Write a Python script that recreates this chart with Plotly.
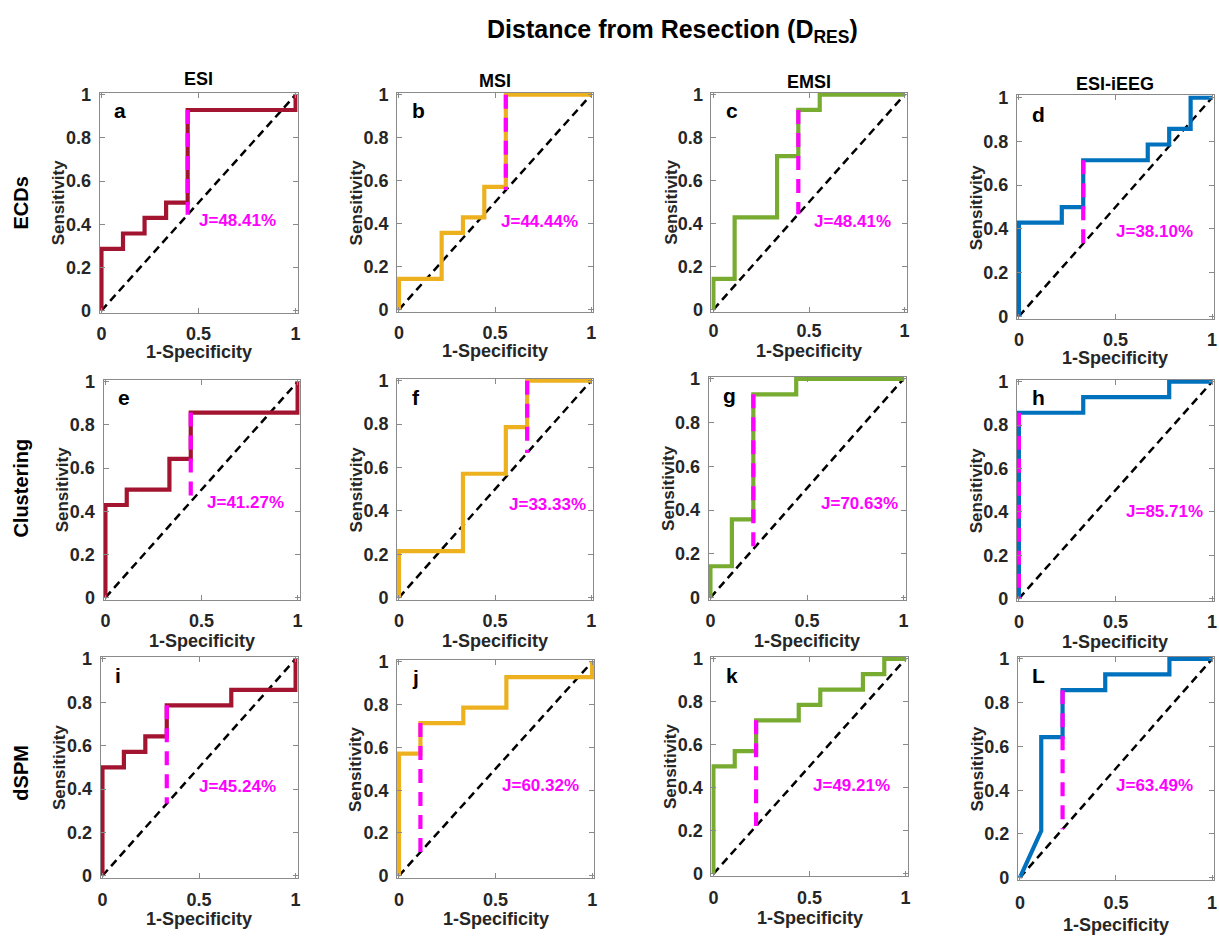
import plotly.graph_objects as go

W, H = 1219, 939

# ---------------- data ----------------
row_labels = ["ECDs", "Clustering", "dSPM"]
methods = ["ESI", "MSI", "EMSI", "ESI-iEEG"]
panel_ids = ["a", "b", "c", "d", "e", "f", "g", "h", "i", "j", "k", "L"]

fpr_a = [0, 0, 0.111, 0.111, 0.222, 0.222, 0.333, 0.333, 0.444, 0.444, 1, 1]
tpr_a = [0, 0.286, 0.286, 0.357, 0.357, 0.429, 0.429, 0.5, 0.5, 0.929, 0.929, 1]
fpr_b = [0, 0, 0.222, 0.222, 0.333, 0.333, 0.444, 0.444, 0.556, 0.556, 1]
tpr_b = [0, 0.143, 0.143, 0.357, 0.357, 0.429, 0.429, 0.571, 0.571, 1, 1]
fpr_c = [0, 0, 0.111, 0.111, 0.333, 0.333, 0.444, 0.444, 0.556, 0.556, 1]
tpr_c = [0, 0.143, 0.143, 0.429, 0.429, 0.714, 0.714, 0.929, 0.929, 1, 1]
fpr_d = [0, 0, 0.222, 0.222, 0.333, 0.333, 0.667, 0.667, 0.778, 0.778, 0.889, 0.889, 1]
tpr_d = [0, 0.429, 0.429, 0.5, 0.5, 0.714, 0.714, 0.786, 0.786, 0.857, 0.857, 1, 1]
fpr_e = [0, 0, 0.111, 0.111, 0.333, 0.333, 0.444, 0.444, 1, 1]
tpr_e = [0, 0.429, 0.429, 0.5, 0.5, 0.643, 0.643, 0.857, 0.857, 1]
fpr_f = [0, 0, 0.333, 0.333, 0.556, 0.556, 0.667, 0.667, 1]
tpr_f = [0, 0.214, 0.214, 0.571, 0.571, 0.786, 0.786, 1, 1]
fpr_g = [0, 0, 0.111, 0.111, 0.222, 0.222, 0.444, 0.444, 1]
tpr_g = [0, 0.143, 0.143, 0.357, 0.357, 0.929, 0.929, 1, 1]
fpr_h = [0, 0, 0.333, 0.333, 0.778, 0.778, 1]
tpr_h = [0, 0.857, 0.857, 0.929, 0.929, 1, 1]
fpr_i = [0, 0, 0.111, 0.111, 0.222, 0.222, 0.333, 0.333, 0.667, 0.667, 1, 1]
tpr_i = [0, 0.5, 0.5, 0.571, 0.571, 0.643, 0.643, 0.786, 0.786, 0.857, 0.857, 1]
fpr_j = [0, 0, 0.111, 0.111, 0.333, 0.333, 0.556, 0.556, 1, 1]
tpr_j = [0, 0.571, 0.571, 0.714, 0.714, 0.786, 0.786, 0.929, 0.929, 1]
fpr_k = [0, 0, 0.111, 0.111, 0.222, 0.222, 0.444, 0.444, 0.556, 0.556, 0.778, 0.778, 0.889, 0.889, 1]
tpr_k = [0, 0.5, 0.5, 0.571, 0.571, 0.714, 0.714, 0.786, 0.786, 0.857, 0.857, 0.929, 0.929, 1, 1]
fpr_L = [0, 0.111, 0.111, 0.222, 0.222, 0.444, 0.444, 0.778, 0.778, 1]
tpr_L = [0, 0.214, 0.643, 0.643, 0.857, 0.857, 0.929, 0.929, 1, 1]

fpr_all = [fpr_a, fpr_b, fpr_c, fpr_d, fpr_e, fpr_f, fpr_g, fpr_h, fpr_i, fpr_j, fpr_k, fpr_L]
tpr_all = [tpr_a, tpr_b, tpr_c, tpr_d, tpr_e, tpr_f, tpr_g, tpr_h, tpr_i, tpr_j, tpr_k, tpr_L]

# optimal (Youden) operating point: x, lower end (chance line), upper end (curve)
opt_x = [0.444, 0.556, 0.444, 0.333, 0.444, 0.667, 0.222, 0.0, 0.333, 0.111, 0.222, 0.222]
opt_lo = [0.444, 0.556, 0.444, 0.333, 0.444, 0.667, 0.222, 0.0, 0.333, 0.111, 0.222, 0.222]
opt_hi = [0.929, 1.0, 0.929, 0.714, 0.857, 1.0, 0.929, 0.857, 0.786, 0.714, 0.714, 0.857]
j_index = ["48.41", "44.44", "48.41", "38.10", "41.27", "33.33",
           "70.63", "85.71", "45.24", "60.32", "49.21", "63.49"]

chance_x = [0, 1]
chance_y = [0, 1]

x_ticks = [0, 0.5, 1]
x_tick_text = ["0", "0.5", "1"]
y_ticks = [0, 0.2, 0.4, 0.6, 0.8, 1]
y_tick_text = ["0", "0.2", "0.4", "0.6", "0.8", "1"]

# ---------------- layout / style ----------------
colors = {"ESI": "#A2142F", "MSI": "#EDB120", "EMSI": "#77AC30", "ESI-iEEG": "#0072BD"}
MAGENTA = "#FF00FF"
FONT = "Arial, Liberation Sans, sans-serif"
AXC = "#8a8a8a"
TXT = "#262626"
PAD = 0.01

# pixel boxes (left, right, top, bottom)
boxes = [
    (97, 296, 86, 310), (396, 593, 86, 309), (712, 908, 86, 309), (1019, 1217, 89, 316),
    (101, 298, 378, 602), (396, 593, 377, 602), (709, 907, 375, 602), (1019, 1217, 378, 603),
    (98, 296, 660, 885), (396, 594, 663, 885), (712, 909, 660, 883), (1020, 1217, 660, 887),
]
xtick_stand = [5, 5, 3, 5, 5, 5, 5, 5, 5, 5, 5, 7]
xtitle_off = [40, 40, 40, 40, 42, 42, 42, 42, 42, 42, 43, 46]
jpos = [(0.49, 0.415), (0.52, 0.41), (0.515, 0.41), (0.49, 0.39),
        (0.52, 0.44), (0.56, 0.43), (0.56, 0.43), (0.545, 0.40),
        (0.49, 0.41), (0.525, 0.42), (0.51, 0.41), (0.49, 0.42)]


def px(x):
    return x / W


def py(y):
    return 1 - y / H


fig = go.Figure()
annotations = []
layout_axes = {}

for idx, pid in enumerate(panel_ids):
    n = idx + 1
    r, c = divmod(idx, 4)
    method = methods[c]
    xname = "x" if n == 1 else f"x{n}"
    yname = "y" if n == 1 else f"y{n}"
    L, R, T, B = boxes[idx]

    # chance line
    fig.add_trace(go.Scatter(x=chance_x, y=chance_y, mode="lines", xaxis=xname, yaxis=yname,
                             line=dict(color="black", width=2.5, dash="8px,5px"),
                             showlegend=False, hoverinfo="skip"))
    # ROC curve
    fig.add_trace(go.Scatter(x=fpr_all[idx], y=tpr_all[idx], mode="lines", xaxis=xname, yaxis=yname,
                             line=dict(color=colors[method], width=4.2),
                             showlegend=False, name=f"{method} {row_labels[r]}"))
    # Youden index line
    fig.add_trace(go.Scatter(x=[opt_x[idx], opt_x[idx]], y=[opt_hi[idx], opt_lo[idx]], mode="lines",
                             xaxis=xname, yaxis=yname,
                             line=dict(color=MAGENTA, width=4.2, dash="14px,9px"),
                             showlegend=False, hoverinfo="skip"))

    common = dict(showgrid=False, zeroline=False, showline=True, linecolor=AXC, linewidth=1,
                  mirror="ticks", ticks="inside", ticklen=5, tickcolor=AXC, tickwidth=1,
                  range=[-PAD, 1 + PAD], fixedrange=True,
                  tickfont=dict(family=FONT, size=18, color=TXT, weight="bold"))
    layout_axes["xaxis" if n == 1 else f"xaxis{n}"] = dict(
        common, domain=[px(L), px(R)], anchor=yname,
        tickvals=x_ticks, ticktext=x_tick_text, ticklabelstandoff=xtick_stand[idx])
    layout_axes["yaxis" if n == 1 else f"yaxis{n}"] = dict(
        common, domain=[py(B), py(T)], anchor=xname,
        tickvals=y_ticks, ticktext=y_tick_text, ticklabelstandoff=4)

    # panel letter
    annotations.append(dict(x=0.055, y=0.925, xref=xname, yref=yname, text=pid, showarrow=False,
                            xanchor="left", yanchor="middle",
                            font=dict(family=FONT, size=21, color="black", weight="bold")))
    # J label
    annotations.append(dict(x=jpos[idx][0], y=jpos[idx][1], xref=xname, yref=yname,
                            text=f"J={j_index[idx]}%", showarrow=False,
                            xanchor="left", yanchor="middle",
                            font=dict(family=FONT, size=17, color=MAGENTA, weight="bold")))
    # axis titles
    annotations.append(dict(x=px(L - 41), y=py((T + B) / 2), xref="paper", yref="paper",
                            text="Sensitivity", showarrow=False, textangle=-90,
                            xanchor="center", yanchor="middle",
                            font=dict(family=FONT, size=17, color=TXT, weight="bold")))
    annotations.append(dict(x=px((L + R) / 2), y=py(B + xtitle_off[idx]), xref="paper", yref="paper",
                            text="1-Specificity", showarrow=False,
                            xanchor="center", yanchor="middle",
                            font=dict(family=FONT, size=18, color=TXT, weight="bold")))

# column headers
col_y = [72, 74, 75, 77]
for c, m in enumerate(methods):
    L, R, T, B = boxes[c]
    annotations.append(dict(x=px((L + R) / 2), y=py(col_y[c]), xref="paper", yref="paper",
                            text=m, showarrow=False, xanchor="center", yanchor="middle",
                            font=dict(family=FONT, size=18, color="black", weight="bold")))
# row labels
row_y = [198, 488, 778]
for r, lab in enumerate(row_labels):
    annotations.append(dict(x=px(18), y=py(row_y[r]), xref="paper", yref="paper",
                            text=lab, showarrow=False, textangle=-90,
                            xanchor="center", yanchor="middle",
                            font=dict(family=FONT, size=20, color="black", weight="bold")))
# main title
annotations.append(dict(x=px(673), y=py(23), xref="paper", yref="paper",
                        text="Distance from Resection (D<sub>RES</sub>)", showarrow=False,
                        xanchor="center", yanchor="middle",
                        font=dict(family=FONT, size=25, color="black", weight="bold")))

fig.update_layout(width=W, height=H, margin=dict(l=0, r=0, t=0, b=0),
                  paper_bgcolor="white", plot_bgcolor="white",
                  annotations=annotations, **layout_axes)

fig.write_html("out.html", config={"displayModeBar": False},
               post_script="document.body.style.margin='0px';document.body.style.overflow='hidden';")
